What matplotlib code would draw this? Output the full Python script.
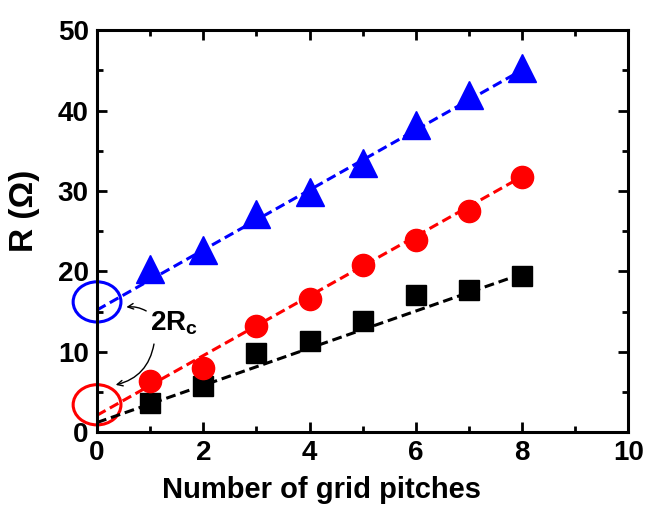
import matplotlib.pyplot as plt
import numpy as np
from matplotlib.patches import Ellipse
from matplotlib.ticker import MultipleLocator

plt.rcParams['font.family'] = ['Liberation Sans', 'DejaVu Sans']
plt.rcParams['font.weight'] = 'bold'
plt.rcParams['mathtext.fontset'] = 'custom'
plt.rcParams['mathtext.rm'] = 'Liberation Sans:bold'
plt.rcParams['mathtext.bf'] = 'Liberation Sans:bold'

# data
pitches = [1, 2, 3, 4, 5, 6, 7, 8]
r_black = [3.6, 5.7, 9.8, 11.3, 13.8, 17.1, 17.7, 19.4]
r_red = [6.3, 8.0, 13.2, 16.5, 20.8, 23.9, 27.5, 31.8]
r_blue = [20.3, 22.6, 27.1, 29.9, 33.5, 38.2, 42.0, 45.3]

# linear fits (slope, intercept) as drawn in the figure
fit_black = (2.31, 1.2)
fit_red = (3.71, 2.1)
fit_blue = (3.73, 15.2)

fig = plt.figure(figsize=(6.47, 5.12), dpi=100)
ax = fig.add_axes([0.150, 0.156, 0.821, 0.785])

xfit = np.array([0, 8])
for fit, col in [(fit_black, 'black'), (fit_red, 'red'), (fit_blue, 'blue')]:
    ax.plot(xfit, fit[0] * xfit + fit[1], '--', color=col, lw=2.2, dashes=(3.2, 1.6))

ax.plot(pitches, r_black, 's', color='black', ms=14.5, ls='none')
ax.plot(pitches, r_red, 'o', color='red', ms=16, ls='none')
ax.plot(pitches, r_blue, '^', color='blue', ms=20, ls='none')

# contact resistance markers
ax.add_patch(Ellipse((0, 16.2), 0.9, 5.0, fill=False, ec='blue', lw=2.2, clip_on=False))
ax.add_patch(Ellipse((0, 3.4), 0.9, 5.0, fill=False, ec='red', lw=2.2, clip_on=False))
ax.text(1.45, 13.6, r'2R$_\mathbf{c}$', fontsize=20, fontweight='bold', ha='center', va='center')
ax.annotate('', xy=(0.5, 15.5), xytext=(0.97, 14.9),
            arrowprops=dict(arrowstyle='->', color='black', lw=1.0,
                            connectionstyle='arc3,rad=0.2'))
ax.annotate('', xy=(0.3, 5.8), xytext=(1.08, 11.3),
            arrowprops=dict(arrowstyle='->', color='black', lw=1.0,
                            connectionstyle='arc3,rad=-0.35'))

ax.set_xlim(0, 10)
ax.set_ylim(0, 50)
ax.xaxis.set_major_locator(MultipleLocator(2))
ax.xaxis.set_minor_locator(MultipleLocator(1))
ax.yaxis.set_major_locator(MultipleLocator(10))
ax.yaxis.set_minor_locator(MultipleLocator(5))
ax.tick_params(which='both', direction='in', top=True, right=True, width=2,
               labelsize=20, pad=6)
ax.tick_params(which='major', length=7)
ax.tick_params(which='minor', length=4)
for sp in ax.spines.values():
    sp.set_linewidth(2.2)

ax.set_xlabel('Number of grid pitches', fontsize=21, fontweight='bold')
ax.xaxis.set_label_coords(0.422, -0.108)
ax.set_ylabel('R (Ω)', fontsize=24, fontweight='bold')
ax.yaxis.set_label_coords(-0.107, 0.55)

fig.savefig('out.png', dpi=100)
